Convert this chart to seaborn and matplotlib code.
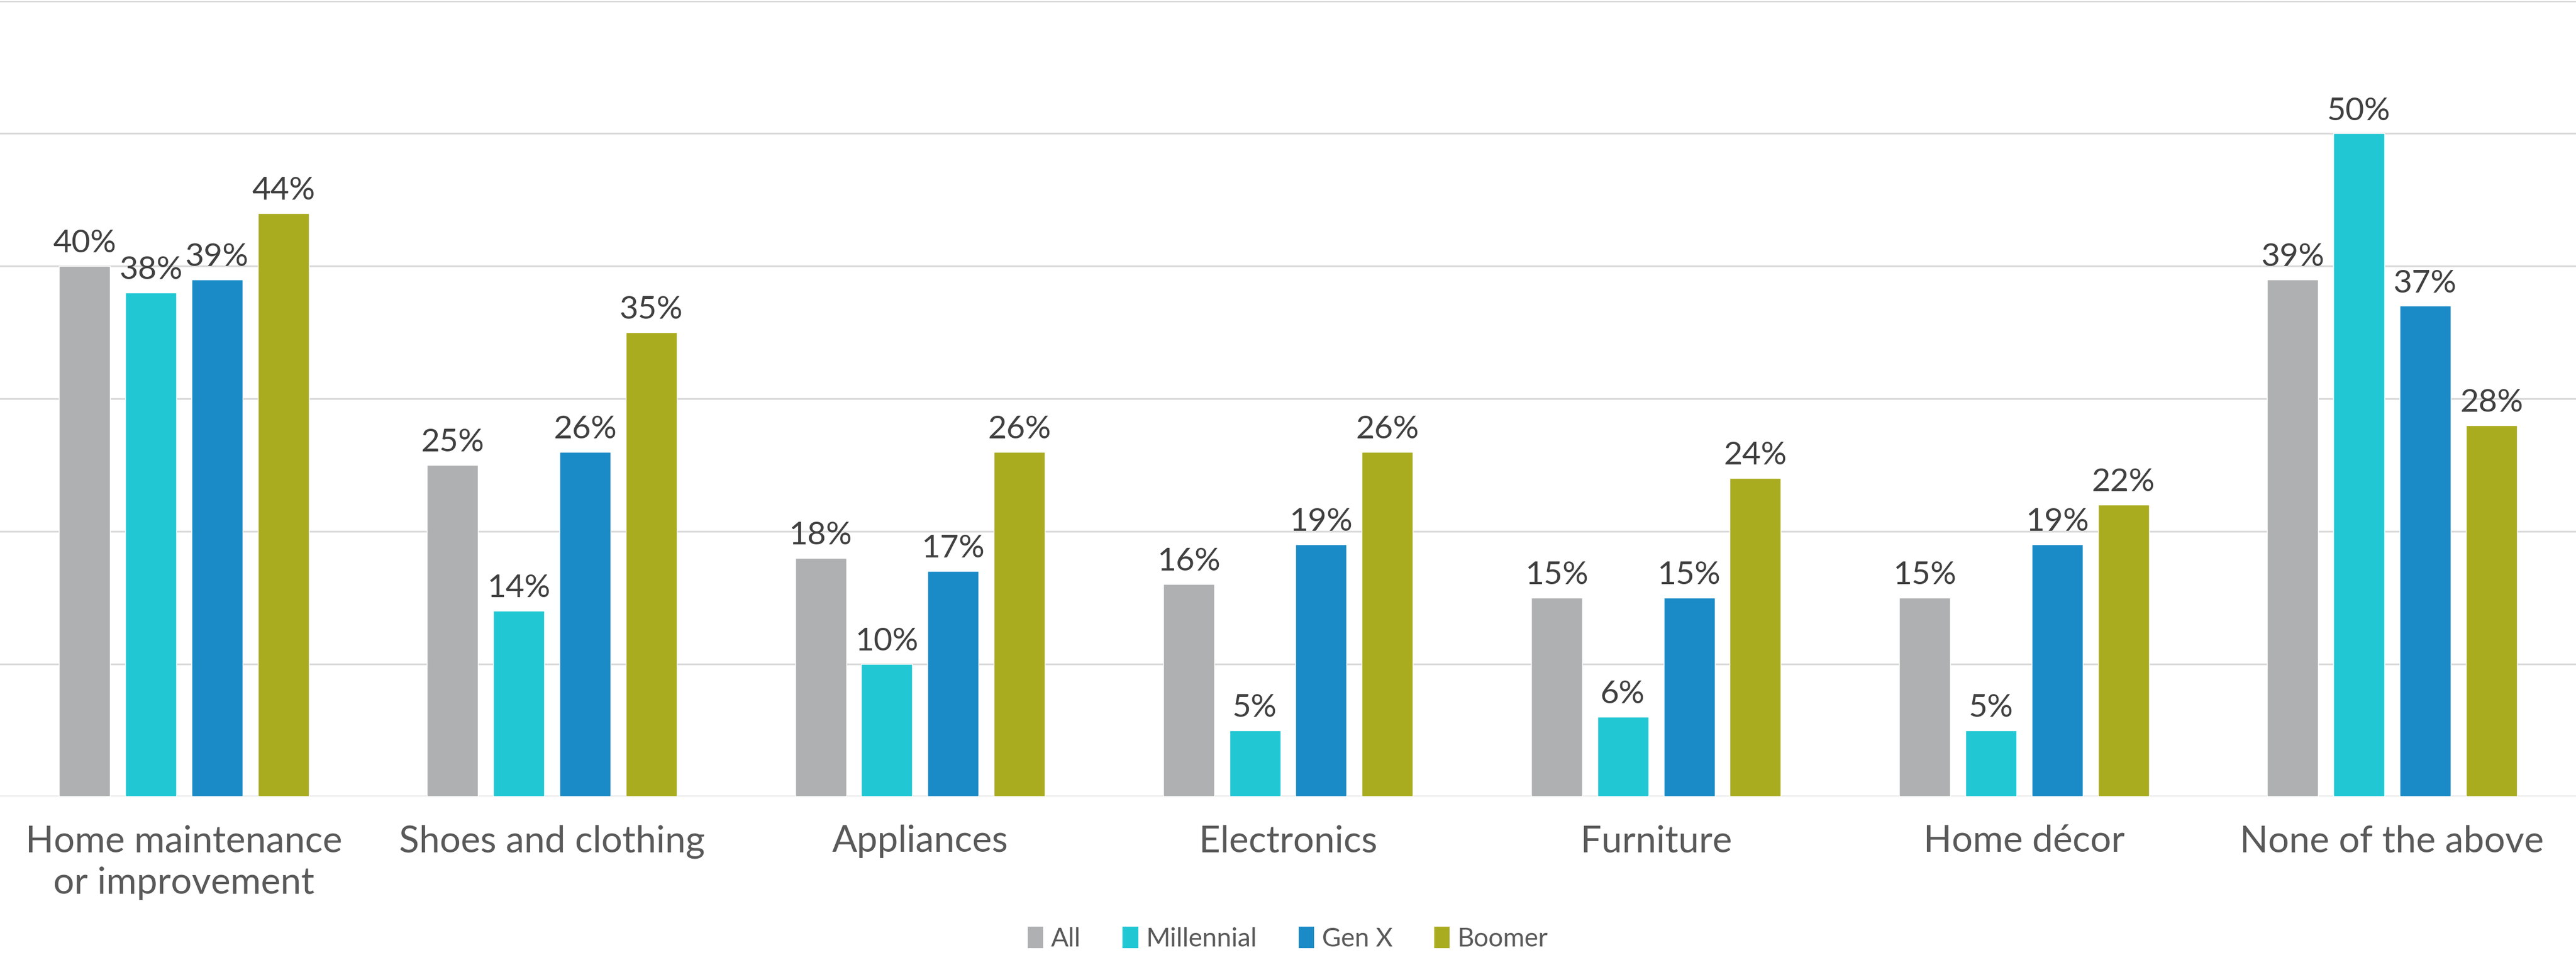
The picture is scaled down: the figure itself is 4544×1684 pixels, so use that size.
import matplotlib
matplotlib.use("Agg")
import matplotlib.pyplot as plt
import seaborn as sns
import pandas as pd
from matplotlib.patches import Patch

categories = ["Home maintenance\nor improvement", "Shoes and clothing", "Appliances",
              "Electronics", "Furniture", "Home décor", "None of the above"]
series = ["All", "Millennial", "Gen X", "Boomer"]
all_vals = [40, 25, 18, 16, 15, 15, 39]
millennial_vals = [38, 14, 10, 5, 6, 5, 50]
genx_vals = [39, 26, 17, 19, 15, 19, 37]
boomer_vals = [44, 35, 26, 26, 24, 22, 28]
colors = ["#AEB0B1", "#21C7D3", "#1A8BC7", "#AAAC20"]

rows = []
for name, vals in zip(series, [all_vals, millennial_vals, genx_vals, boomer_vals]):
    for cat, v in zip(categories, vals):
        rows.append({"category": cat, "group": name, "value": v})
df = pd.DataFrame(rows)

sns.set_theme(style="white")
plt.rcParams["font.family"] = ["Lato", "DejaVu Sans"]

fig = plt.figure(figsize=(45.44, 16.84), dpi=100)
ax = fig.add_axes([0.0, 0.166, 1.0, 0.833])

sns.barplot(data=df, x="category", y="value", hue="group", order=categories,
            hue_order=series, palette=colors, width=0.72, gap=0.23,
            saturation=1, ax=ax, legend=False, errorbar=None)

ax.set_xlim(-0.5, len(categories) - 0.5)
ax.set_ylim(0, 60)
ax.set_yticks(range(0, 61, 10))
ax.yaxis.grid(True, color="#D9D9D9", linewidth=2.2)
ax.set_axisbelow(True)
ax.tick_params(axis="y", left=False, labelleft=False)
ax.tick_params(axis="x", bottom=False, pad=30, labelsize=47, labelcolor="#595959")
for lbl in ax.get_xticklabels():
    lbl.set_linespacing(1.3)
ax.set_xlabel("")
ax.set_ylabel("")
for s in ax.spines.values():
    s.set_visible(False)

for container in ax.containers:
    ax.bar_label(container, fmt="%d%%", padding=10, fontsize=41, color="#404040")

handles = [Patch(facecolor=c, edgecolor="none") for c in colors]
fig.legend(handles, series, loc="center", bbox_to_anchor=(0.5, 0.017), ncol=4,
           frameon=False, fontsize=33, labelcolor="#595959", handlelength=0.6,
           handleheight=0.9, handletextpad=0.3, columnspacing=1.6)

fig.savefig("out.png", dpi=100, facecolor="white")
